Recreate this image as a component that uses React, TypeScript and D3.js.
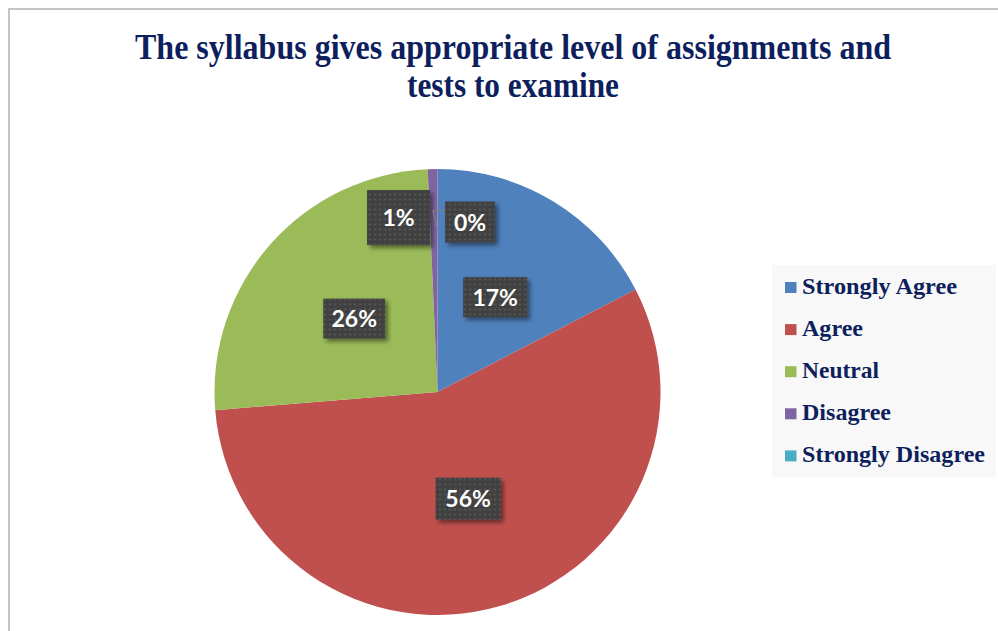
import React from 'react';
import * as d3 from 'd3';

const categories = ['Strongly Agree', 'Agree', 'Neutral', 'Disagree', 'Strongly Disagree'];
const values = [17.4, 56.3, 25.6, 0.7, 0];
const labels = ['17%', '56%', '26%', '1%', '0%'];
const colors = ['#4f81bd', '#c0504d', '#9bbb59', '#8064a2', '#4bacc6'];
const titleLines = ['The syllabus gives appropriate level of assignments and', 'tests to examine'];

// layout for data labels (offset from centroid, box size)
const labelLayout = [
  { dx: 0, dy: 0, w: 64, h: 40, leader: false },
  { dx: 0, dy: 0, w: 65, h: 42, leader: false },
  { dx: 0, dy: 0, w: 62, h: 40, leader: false },
  { dx: -36.5, dy: -63.5, w: 63, h: 55, leader: false },
  { dx: 32.5, dy: -59, w: 50, h: 41, leader: true },
];

const W = 998;
const H = 631;
const cx = 437.5;
const cy = 392;
const R = 223;

export default function App() {
  const pie = d3.pie<number>().sort(null).value((d) => d).startAngle(0).endAngle(2 * Math.PI);
  const arcs = pie(values);
  const arc = d3.arc<d3.PieArcDatum<number>>().innerRadius(0).outerRadius(R);
  const centroidArc = d3.arc<d3.PieArcDatum<number>>().innerRadius(0).outerRadius(R - 1);
  const leaderArc = d3.arc<d3.PieArcDatum<number>>().innerRadius(162).outerRadius(162);

  const navy = '#0e1f5d';
  const serif = '"Liberation Serif", "Times New Roman", Times, serif';

  const legendX = 772;
  const legendY = 265;
  const rowStep = 42.1;
  const legendWidths = [155, 61, 77, 89, 183];

  return (
    <svg
      width={W}
      height={H}
      style={{ position: 'absolute', left: 0, top: 0, background: '#fff' }}
    >
      <defs>
        <pattern id="dots" width="5" height="5" patternUnits="userSpaceOnUse">
          <rect width="5" height="5" fill="#3f3f3f" />
          <rect x="1.5" y="1.5" width="2" height="2" fill="#585858" />
        </pattern>
        <filter id="shadow" x="-20%" y="-20%" width="150%" height="150%">
          <feDropShadow dx="3" dy="3" stdDeviation="2" floodColor="#000" floodOpacity="0.45" />
        </filter>
      </defs>
      <rect x={0} y={0} width={W} height={H} fill="#fff" />
      <path d={`M9,${H + 10} L9,9 L${W + 10},9`} fill="none" stroke="#c4c4c4" strokeWidth={2} />

      {titleLines.map((t, i) => (
        <text
          key={i}
          x={513}
          y={59 + i * 38}
          textAnchor="middle"
          fontFamily={serif}
          fontWeight="bold"
          fontSize={35}
          fill={navy}
          textLength={i === 0 ? 756 : 212}
          lengthAdjust="spacingAndGlyphs"
        >
          {t}
        </text>
      ))}

      <g transform={`translate(${cx},${cy})`}>
        {arcs.map((a, i) => (
          <path key={i} d={arc(a) || ''} fill={colors[i]} />
        ))}
      </g>

      <g transform={`translate(${cx},${cy})`}>
        {arcs.map((a, i) => {
          const L = labelLayout[i];
          const [px, py] = centroidArc.centroid(a);
          const bx = px + L.dx;
          const by = py + L.dy;
          const left = bx - L.w / 2;
          const top = by - L.h / 2;
          let leader = null;
          if (L.leader) {
            const [lx, ly] = leaderArc.centroid(a);
            leader = (
              <polyline
                points={`${left},${top + 9} ${left - 12},${top + 9} ${lx},${ly}`}
                fill="none"
                stroke="#7f7f7f"
                strokeWidth={1.2}
              />
            );
          }
          return (
            <g key={i}>
              {leader}
              <rect x={left} y={top} width={L.w} height={L.h} fill="url(#dots)" filter="url(#shadow)" />
              <text
                x={bx}
                y={by + 8.5}
                textAnchor="middle"
                fontFamily="Lato, 'Open Sans', sans-serif"
                fontWeight="bold"
                fontSize={23}
                fill="#fff"
              >
                {labels[i]}
              </text>
            </g>
          );
        })}
      </g>

      <rect x={legendX} y={legendY} width={224} height={212} fill="#f8f8f8" />
      {categories.map((c, i) => (
        <g key={c}>
          <rect x={785} y={282 + i * rowStep} width={11.5} height={11} fill={colors[i]} />
          <text
            x={802}
            y={293.5 + i * rowStep}
            fontFamily={serif}
            fontWeight="bold"
            fontSize={24}
            fill={navy}
            textLength={legendWidths[i]}
            lengthAdjust="spacingAndGlyphs"
          >
            {c}
          </text>
        </g>
      ))}
    </svg>
  );
}
